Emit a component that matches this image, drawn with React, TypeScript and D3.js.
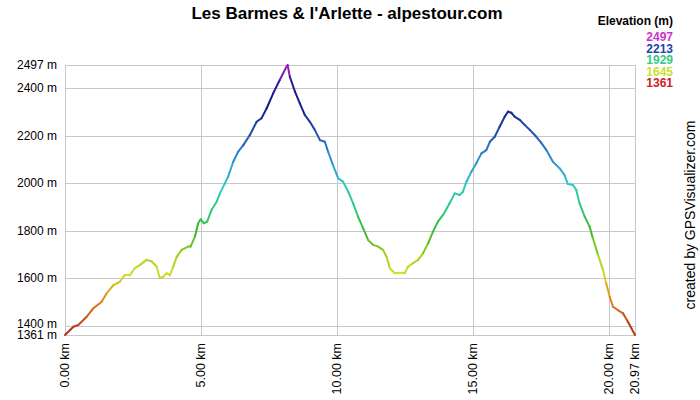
import * as d3 from "d3";

// track profile
const distKm = [
  0, 0.31, 0.49, 0.8, 1.04, 1.35, 1.53, 1.78, 2.02, 2.2,
  2.39, 2.57, 2.76, 3.0, 3.19, 3.37, 3.49, 3.61, 3.74, 3.86,
  3.98, 4.11, 4.29, 4.53, 4.62, 4.78, 4.9, 4.99, 5.11, 5.23,
  5.39, 5.58, 5.7, 5.88, 6.0, 6.19, 6.37, 6.56, 6.8, 7.05,
  7.23, 7.42, 7.66, 7.9, 8.15, 8.19, 8.27, 8.46, 8.64, 8.82,
  9.01, 9.19, 9.38, 9.56, 9.68, 9.86, 10.05, 10.23, 10.42, 10.6,
  10.78, 10.97, 11.15, 11.34, 11.52, 11.7, 11.83, 11.95, 12.13, 12.32,
  12.5, 12.62, 12.8, 12.99, 13.17, 13.36, 13.54, 13.72, 13.91, 14.15,
  14.34, 14.52, 14.64, 14.77, 14.95, 15.13, 15.32, 15.5, 15.63, 15.81,
  15.99, 16.18, 16.3, 16.42, 16.54, 16.73, 16.91, 17.1, 17.34, 17.53,
  17.71, 17.95, 18.2, 18.38, 18.5, 18.69, 18.81, 18.93, 19.12, 19.3,
  19.42, 19.61, 19.79, 19.91, 20.04, 20.16, 20.34, 20.53, 20.71, 20.97,
];

const elevM = [
  1361, 1396, 1403, 1438, 1473, 1501, 1536, 1571, 1585, 1613,
  1613, 1642, 1656, 1677, 1670, 1649, 1600, 1606, 1621, 1613,
  1649, 1690, 1719, 1733, 1733, 1775, 1831, 1848, 1831, 1838,
  1887, 1922, 1957, 1999, 2027, 2090, 2132, 2160, 2202, 2258,
  2273, 2315, 2378, 2434, 2490, 2497, 2448, 2385, 2336, 2287,
  2258, 2224, 2181, 2174, 2132, 2076, 2020, 2006, 1964, 1915,
  1859, 1810, 1761, 1740, 1733, 1719, 1690, 1642, 1621, 1623,
  1621, 1649, 1663, 1677, 1705, 1747, 1796, 1838, 1866, 1915,
  1957, 1950, 1964, 2006, 2048, 2083, 2125, 2139, 2174, 2195,
  2237, 2280, 2301, 2296, 2280, 2266, 2245, 2224, 2195, 2168,
  2139, 2090, 2062, 2034, 1996, 1992, 1971, 1915, 1859, 1817,
  1768, 1698, 1635, 1579, 1522, 1480, 1466, 1452, 1417, 1361,
];

const yTicks = [1361, 1400, 1600, 1800, 2000, 2200, 2400, 2497];
const xTicks = [0, 5, 10, 15, 20, 20.97];

const legendValues = [2497, 2213, 1929, 1645, 1361];
const legendColors = ["#cc33cc", "#2244aa", "#33cc88", "#ccdd33", "#cc2222"];

// colour ramp along the line
const rampElev = [1361, 1500, 1620, 1700, 1800, 1900, 2000, 2100, 2213, 2330, 2440, 2497];
const rampColors = [
  "#a82a1e", "#e0801e", "#d4dc28", "#a0d020", "#38b830", "#30cc88",
  "#30c8c8", "#3090d0", "#2050a8", "#141a88", "#3a1a98", "#cc22cc",
];

const W = 700;
const H = 400;
const M = { left: 65, right: 635, top: 65, bottom: 335 };
const FONT = "Arial, 'Liberation Sans', sans-serif";

export default function App() {
  const x = d3.scaleLinear().domain([0, 20.97]).range([M.left, M.right]);
  const y = d3.scaleLinear().domain([1361, 2497]).range([M.bottom, M.top]);
  const color = d3
    .scaleLinear<string>()
    .domain(rampElev)
    .range(rampColors)
    .interpolate(d3.interpolateRgb);

  const pts = distKm.map((d, i) => [d, elevM[i]] as [number, number]);
  const segs = d3.pairs(pts);
  const line = d3
    .line<[number, number]>()
    .x((d) => x(d[0]))
    .y((d) => y(d[1]));

  return (
    <div style={{ position: "absolute", left: 0, top: 0 }}>
      <svg width={W} height={H} style={{ display: "block", background: "#fff" }} fontFamily={FONT}>
        <text x={347} y={19} textAnchor="middle" fontSize={17} fontWeight="bold" fill="#000">
          Les Barmes &amp; l'Arlette - alpestour.com
        </text>

        {/* grid */}
        <g stroke="#c8c8c8" strokeWidth={1} shapeRendering="crispEdges">
          {yTicks.map((t) => (
            <line key={"h" + t} x1={M.left} x2={M.right} y1={Math.round(y(t)) + 0.5} y2={Math.round(y(t)) + 0.5} />
          ))}
          {xTicks.map((t) => (
            <line key={"v" + t} x1={Math.round(x(t)) + 0.5} x2={Math.round(x(t)) + 0.5} y1={M.top} y2={M.bottom} />
          ))}
        </g>

        {/* y labels */}
        {yTicks.map((t) => (
          <text
            key={"yl" + t}
            x={57}
            y={y(t) + (t === 1400 ? 2.5 : 4)}
            textAnchor="end"
            fontSize={12}
            fill="#000"
          >
            {t} m
          </text>
        ))}

        {/* x labels */}
        {xTicks.map((t) => (
          <text
            key={"xl" + t}
            transform={`translate(${x(t) + 4},${M.bottom + 8}) rotate(-90)`}
            textAnchor="end"
            fontSize={12.5}
            fill="#000"
          >
            {t.toFixed(2)} km
          </text>
        ))}

        {/* profile */}
        <g fill="none" strokeWidth={2} strokeLinecap="round" strokeLinejoin="round">
          {segs.map(([a, b], i) => (
            <path key={i} d={line([a, b]) ?? ""} stroke={color((a[1] + b[1]) / 2)} />
          ))}
        </g>

        {/* legend */}
        <text x={673} y={25} textAnchor="end" fontSize={12} fontWeight="bold" fill="#000">
          Elevation (m)
        </text>
        {legendValues.map((v, i) => (
          <text key={"lg" + v} x={673} y={41 + i * 11.5} textAnchor="end" fontSize={12} fontWeight="bold" fill={legendColors[i]}>
            {v}
          </text>
        ))}

        <text transform="translate(695,215) rotate(-90)" textAnchor="middle" fontSize={14} fill="#000">
          created by GPSVisualizer.com
        </text>
      </svg>
    </div>
  );
}
